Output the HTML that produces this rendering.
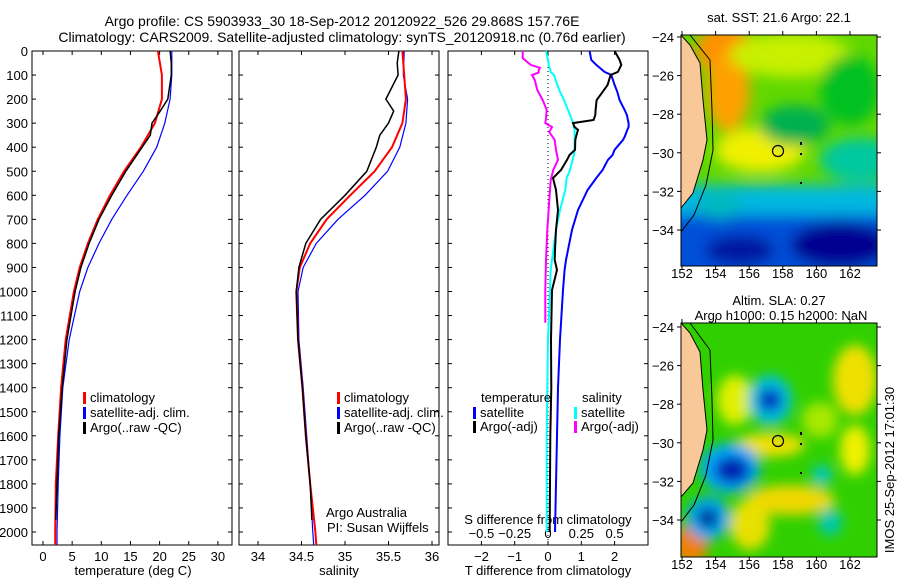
<!DOCTYPE html>
<html><head><meta charset="utf-8"><style>
html,body{margin:0;padding:0;background:#fff;}
svg{display:block;font-family:"Liberation Sans",sans-serif;}
text{font-size:13px;fill:#000;}
text.big{font-size:14px;}
</style></head><body>
<svg id="fig" width="900" height="580" viewBox="0 0 900 580" xmlns="http://www.w3.org/2000/svg">
<defs>
<filter id="blr" x="-50%" y="-50%" width="200%" height="200%"><feGaussianBlur stdDeviation="7"/></filter>
<filter id="blr2" x="-50%" y="-50%" width="200%" height="200%"><feGaussianBlur stdDeviation="6"/></filter>
<clipPath id="c1"><rect x="32" y="51" width="200" height="494"/></clipPath>
<clipPath id="c2"><rect x="239" y="51" width="200" height="494"/></clipPath>
<clipPath id="c3"><rect x="448" y="51" width="200" height="494"/></clipPath>
<clipPath id="cm1"><rect x="681" y="35" width="196" height="231"/></clipPath>
<clipPath id="cm2"><rect x="681" y="323" width="196" height="234"/></clipPath>
</defs>
<text class="big" x="342" y="26" text-anchor="middle">Argo profile: CS 5903933_30 18-Sep-2012 20120922_526 29.868S 157.76E</text>
<text class="big" x="342" y="42" text-anchor="middle">Climatology: CARS2009. Satellite-adjusted climatology: synTS_20120918.nc (0.76d earlier)</text>
<g id="p1"></g>
<g id="p2"></g>
<g id="p3"></g>

<g>
<text x="779" y="22" text-anchor="middle">sat. SST: 21.6 Argo: 22.1</text>
<g clip-path="url(#cm1)">
<rect x="681" y="35" width="196" height="231" fill="#60d800"/>
<g filter="url(#blr)">
<ellipse cx="725" cy="50" rx="30" ry="25" fill="#ff9000"/>
<ellipse cx="728" cy="90" rx="22" ry="42" fill="#ffa000"/>
<ellipse cx="790" cy="55" rx="60" ry="22" fill="#c8f000"/>
<ellipse cx="760" cy="150" rx="45" ry="22" fill="#f0f000"/>
<ellipse cx="795" cy="125" rx="35" ry="20" fill="#00b050"/>
<ellipse cx="850" cy="90" rx="30" ry="35" fill="#00c020"/>
<ellipse cx="860" cy="160" rx="40" ry="22" fill="#00c8a0"/>
<rect x="660" y="185" width="240" height="35" fill="#00b8e0"/>
<rect x="660" y="215" width="240" height="70" fill="#0050d8"/>
<ellipse cx="840" cy="245" rx="50" ry="22" fill="#000090"/>
<ellipse cx="740" cy="250" rx="35" ry="15" fill="#0018a0"/>
<ellipse cx="720" cy="205" rx="22" ry="14" fill="#00b8c0"/>
</g>
<polygon points="681,35 690,45 700,63 703,100 707,140 703,160 693,193 681,208" fill="#f8c898" stroke="#000" stroke-width="1"/>
<polyline points="690,35 710,60 712,110 713,150 706,185 694,215 681,232" fill="none" stroke="#000" stroke-width="1"/>
<circle cx="778" cy="151" r="5.5" fill="none" stroke="#000" stroke-width="1.2"/>
<rect x="800" y="142" width="2" height="3" fill="#000"/><rect x="800" y="153" width="2" height="2" fill="#000"/><rect x="800" y="182" width="2" height="2" fill="#000"/>
</g>
<rect x="681" y="35" width="196" height="231" fill="none" stroke="#000"/>
<g id="m1ax"></g>
</g>

<g>
<text x="779" y="305" text-anchor="middle">Altim. SLA: 0.27</text>
<text x="781" y="320" text-anchor="middle">Argo h1000: 0.15 h2000: NaN</text>
<g clip-path="url(#cm2)">
<rect x="681" y="323" width="196" height="234" fill="#30d000"/>
<g filter="url(#blr2)">
<ellipse cx="735" cy="400" rx="18" ry="25" fill="#e0f000"/>
<ellipse cx="855" cy="380" rx="22" ry="35" fill="#f0e000"/>
<ellipse cx="855" cy="450" rx="15" ry="25" fill="#f0f000"/>
<ellipse cx="770" cy="445" rx="35" ry="12" fill="#f0e000"/>
<ellipse cx="790" cy="500" rx="45" ry="15" fill="#f0d800"/>
<ellipse cx="750" cy="525" rx="20" ry="25" fill="#e8e000"/>
<ellipse cx="690" cy="545" rx="18" ry="20" fill="#f08000"/>
<ellipse cx="820" cy="420" rx="18" ry="18" fill="#a8e800"/>
<ellipse cx="770" cy="400" rx="22" ry="25" fill="#00c0e0"/>
<ellipse cx="770" cy="400" rx="12" ry="12" fill="#0030c0"/>
<ellipse cx="730" cy="468" rx="30" ry="25" fill="#00a8ff"/>
<ellipse cx="732" cy="470" rx="18" ry="14" fill="#0020b0"/>
<ellipse cx="708" cy="518" rx="22" ry="22" fill="#00a8f0"/>
<ellipse cx="708" cy="518" rx="10" ry="10" fill="#000090"/>
<ellipse cx="822" cy="475" rx="10" ry="10" fill="#00c8c8"/>
<ellipse cx="830" cy="522" rx="12" ry="14" fill="#00c8b0"/>
</g>
<polygon points="681,323 690,333 700,352 703,390 707,430 703,450 693,483 681,497" fill="#f8c898" stroke="#000" stroke-width="1"/>
<polyline points="690,323 710,350 712,400 713,440 706,475 694,505 681,522" fill="none" stroke="#000" stroke-width="1"/>
<circle cx="778" cy="441" r="5.5" fill="none" stroke="#000" stroke-width="1.2"/>
<rect x="800" y="432" width="2" height="3" fill="#000"/><rect x="800" y="443" width="2" height="2" fill="#000"/><rect x="800" y="472" width="2" height="2" fill="#000"/>
</g>
<rect x="681" y="323" width="196" height="234" fill="none" stroke="#000"/>
<g id="m2ax"></g>
</g>
<text transform="translate(894,470) rotate(-90)" text-anchor="middle">IMOS 25-Sep-2012 17:01:30</text>
</svg>
<script>
const NS='http://www.w3.org/2000/svg';
const depthT=[0,100,200,300,400,500,600,700,800,900,1000,1200,1400,1600,1800,2000,2054];
const tempClim=[19.7,20.4,20.4,19.2,16.8,13.9,11.5,9.4,7.7,6.3,5.3,3.9,3.1,2.6,2.2,2.1,2.1];
const tempSat=[22.1,22.1,21.8,20.9,19.5,17.2,14.4,11.8,9.6,7.7,6.3,4.5,3.4,2.9,2.6,2.4,2.4];
const depthArgoT=[0,50,100,200,250,300,350,400,500,600,700,800,900,1000,1200,1400,1600,1800,1950];
const tempArgo=[21.8,22.0,22.0,21.4,20.1,18.7,18.4,17.0,14.2,11.8,9.6,7.9,6.5,5.5,4.1,3.3,2.7,2.4,2.2];
const salClim=[35.66,35.68,35.70,35.66,35.54,35.34,35.06,34.79,34.60,34.48,34.44,34.46,34.51,34.55,34.60,34.66,34.67];
const salSat=[35.68,35.67,35.72,35.70,35.63,35.49,35.23,34.92,34.67,34.52,34.46,34.47,34.52,34.56,34.60,34.63,34.64];
const salArgo=[35.62,35.60,35.61,35.47,35.56,35.50,35.40,35.36,35.25,35.00,34.72,34.55,34.47,34.44,34.46,34.51,34.55,34.60,34.62];
const depthD=[0,37,58,87,100,141,170,204,245,266,287,300,316,328,357,370,411,432,453,495,528,578,661,744,827,869,910,994,1200,1400,1600,1800,2000];
const dTArgo=[2.0,2.15,2.2,2.1,1.88,1.79,1.64,1.46,1.43,1.42,1.37,0.75,0.8,0.9,0.84,0.82,0.81,0.65,0.57,0.39,0.15,0.24,0.3,0.24,0.21,0.2,0.27,0.12,0.09,0.1,0.07,0.06,0.05];
const dTSat=[1.25,1.3,1.45,1.7,1.9,2.0,2.08,2.15,2.3,2.37,2.4,2.42,2.42,2.38,2.3,2.25,2.0,1.94,1.8,1.64,1.45,1.19,0.9,0.72,0.6,0.54,0.5,0.45,0.36,0.3,0.27,0.24,0.21];
const dSSat=[-0.015,0.0,0.005,0.02,0.045,0.07,0.09,0.12,0.15,0.165,0.18,0.19,0.195,0.2,0.2,0.2,0.2,0.195,0.185,0.165,0.14,0.13,0.09,0.06,0.04,0.03,0.02,0.015,0.0,-0.005,-0.01,-0.01,-0.01];
const depthMag=[0,30,58,70,79,90,100,120,162,204,245,279,300,316,337,370,411,453,495,536,620,744,869,994,1130];
const dSArgo=[-0.19,-0.19,-0.13,-0.06,-0.07,-0.07,-0.12,-0.1,-0.08,-0.04,-0.01,-0.015,-0.02,0.03,0.01,0.05,0.06,0.075,0.04,0.02,0.01,-0.005,-0.015,-0.02,-0.02];
const yLabels=[0,100,200,300,400,500,600,700,800,900,1000,1100,1200,1300,1400,1500,1600,1700,1800,1900,2000];
const tTicks=[0,5,10,15,20,25,30];
const sTicks=[34,34.5,35,35.5,36];
const dTTicks=[-2,-1,0,1,2];
const dSTicks=[-0.5,-0.25,0,0.25,0.5];
const lonTicks=[152,154,156,158,160,162];
const latTicks=[-24,-26,-28,-30,-32,-34];

const Y=d=>51+d*0.2405;
const XT=t=>43+t*5.83;
const XS=s=>258+(s-34)*87;
const XDT=v=>548+v*33.3;
const XDS=v=>548+v*133.2;

function el(tag,attrs,parent,txt){const e=document.createElementNS(NS,tag);for(const k in attrs)e.setAttribute(k,attrs[k]);if(txt!==undefined)e.textContent=txt;parent.appendChild(e);return e;}
function line(xs,ds,fx,color,w,clip,parent,name){
  const p=el('polyline',{points:xs.map((v,i)=>fx(v).toFixed(1)+','+Y(ds[i]).toFixed(1)).join(' '),fill:'none',stroke:color,'stroke-width':w,'clip-path':'url(#'+clip+')'},parent);
  
  
}
function frame(g,x0,name){
  const r=el('rect',{x:x0,y:51,width:200,height:494,fill:'none',stroke:'#000'},g);
  
  
  yLabels.forEach(d=>{el('line',{x1:x0,x2:x0+4,y1:Y(d),y2:Y(d),stroke:'#000'},g);el('line',{x1:x0+196,x2:x0+200,y1:Y(d),y2:Y(d),stroke:'#000'},g);});
}
function xticks(g,ticks,fx,ylab){
  ticks.forEach(t=>{const x=fx(t);el('line',{x1:x,x2:x,y1:545,y2:541,stroke:'#000'},g);el('line',{x1:x,x2:x,y1:51,y2:55,stroke:'#000'},g);
    const tx=el('text',{x:x,y:ylab,'text-anchor':'middle'},g,String(t).replace('-','\u2212'));
    
    });
}
function legend(g,x,y,color,label){
  el('rect',{x:x,y:y-10,width:3,height:12,fill:color},g);
  const t=el('text',{x:x+7,y:y},g,label);
  
  
}
const p1=document.getElementById('p1');
frame(p1,32,'temperature-axes');
yLabels.forEach(d=>{const t=el('text',{x:28,y:Y(d)+5,'text-anchor':'end'},p1,String(d));});
xticks(p1,tTicks,XT,561);
const xt1=el('text',{x:133,y:575,'text-anchor':'middle'},p1,'temperature (deg C)');

line(tempSat,depthT,XT,'#0000ff',1.2,'c1',p1,'satellite-temperature-line');
line(tempClim,depthT,XT,'#ff0000',2,'c1',p1,'climatology-temperature-line');
line(tempArgo,depthArgoT,XT,'#000',1.5,'c1',p1,'argo-temperature-line');
legend(p1,83,402,'#ff0000','climatology');
legend(p1,83,417,'#0000ff','satellite-adj. clim.');
legend(p1,83,432,'#000','Argo(..raw -QC)');
const p2=document.getElementById('p2');
frame(p2,239,'salinity-axes');
xticks(p2,sTicks,XS,561);
const xt2=el('text',{x:339,y:575,'text-anchor':'middle'},p2,'salinity');

line(salSat,depthT,XS,'#0000ff',1.2,'c2',p2,'satellite-salinity-line');
line(salClim,depthT,XS,'#ff0000',2,'c2',p2,'climatology-salinity-line');
line(salArgo,depthArgoT,XS,'#000',1.5,'c2',p2,'argo-salinity-line');
legend(p2,337,402,'#ff0000','climatology');
legend(p2,337,417,'#0000ff','satellite-adj. clim.');
legend(p2,337,432,'#000','Argo(..raw -QC)');
const aa=el('text',{x:326,y:517},p2,'Argo Australia');
const pi=el('text',{x:327,y:532},p2,'PI: Susan Wijffels');
const p3=document.getElementById('p3');
frame(p3,448,'difference-axes');
el('line',{x1:548,x2:548,y1:51,y2:545,stroke:'#000','stroke-dasharray':'1,3'},p3);
xticks(p3,dTTicks,XDT,561);
dSTicks.forEach(t=>{const tx=el('text',{x:XDS(t),y:538,'text-anchor':'middle'},p3,t===0?'0':String(t).replace('-','\u2212'));});
const sdl=el('text',{x:548,y:524,'text-anchor':'middle'},p3,'S difference from climatology');
const tdl=el('text',{x:548,y:575,'text-anchor':'middle'},p3,'T difference from climatology');
line(dTSat,depthD,XDT,'#0000ff',2,'c3',p3,'satellite-tdiff-line');
line(dSSat,depthD,XDS,'#00ffff',2,'c3',p3,'satellite-sdiff-line');
line(dSArgo,depthMag,XDS,'#ff00ff',2,'c3',p3,'argo-sdiff-line');
line(dTArgo,depthD,XDT,'#000',2,'c3',p3,'argo-tdiff-line');
const lt=el('text',{x:481,y:402},p3,'temperature');
const ls=el('text',{x:582,y:402},p3,'salinity');
legend(p3,473,417,'#0000ff','satellite');
legend(p3,473,431,'#000','Argo(-adj)');
legend(p3,574,417,'#00ffff','satellite');
legend(p3,574,431,'#ff00ff','Argo(-adj)');
function mapAxes(id,y0,h,latY0){
  const g=document.getElementById(id);
  lonTicks.forEach(l=>{const x=682+(l-152)*16.8;el('line',{x1:x,x2:x,y1:y0,y2:y0-4,stroke:'#000'},g);el('line',{x1:x,x2:x,y1:y0+h,y2:y0+h+4,stroke:'#000'},g);
    const t=el('text',{x:x,y:y0+h+12,'text-anchor':'middle'},g,String(l));});
  latTicks.forEach(l=>{const y=latY0+(-24-l)*19.3;el('line',{x1:681,x2:677,y1:y,y2:y,stroke:'#000'},g);el('line',{x1:877,x2:881,y1:y,y2:y,stroke:'#000'},g);
    const t=el('text',{x:674,y:y+5,'text-anchor':'end'},g,String(l).replace('-','\u2212'));});
}
mapAxes('m1ax',35,231,37);
mapAxes('m2ax',323,234,327);
</script>
</body></html>
